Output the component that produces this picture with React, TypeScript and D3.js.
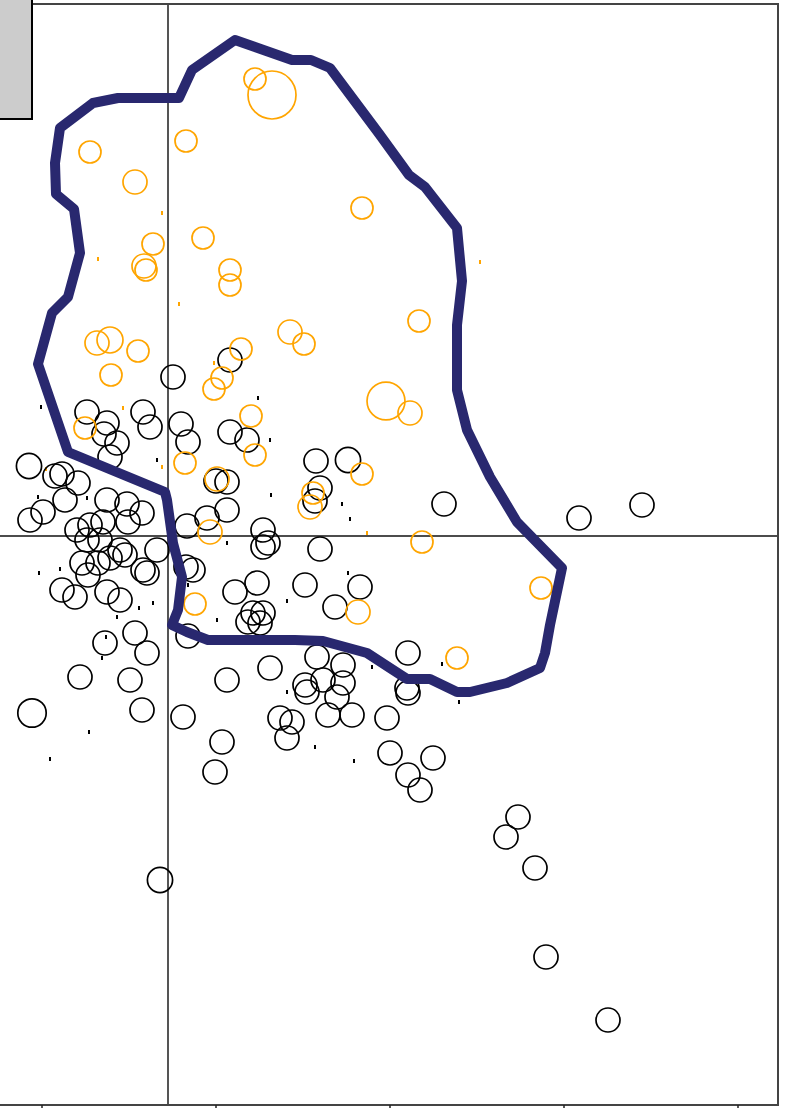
import React from "react";
import * as d3 from "d3";

// [x, y, weight]
const orangePoints: [number, number, number][] = [
  [0.87, 4.57, 0.84], [1.04, 4.41, 4], [-0.78, 3.84, 0.84], [0.18, 3.95, 0.84],
  [-0.33, 3.54, 1], [1.94, 3.28, 0.84], [-0.15, 2.92, 0.84], [0.35, 2.98, 0.84],
  [-0.24, 2.70, 1], [-0.22, 2.66, 0.84], [0.62, 2.66, 0.84], [0.62, 2.51, 0.84],
  [2.51, 2.15, 0.84], [1.22, 2.04, 1], [1.36, 1.92, 0.84], [-0.71, 1.93, 1],
  [-0.58, 1.96, 1.17], [-0.30, 1.85, 0.84], [-0.57, 1.61, 0.84], [0.73, 1.87, 0.84],
  [0.54, 1.58, 0.84], [0.46, 1.47, 0.84], [2.18, 1.35, 2.5], [2.42, 1.23, 1],
  [0.83, 1.20, 0.84], [-0.83, 1.08, 0.84], [0.87, 0.81, 0.84], [0.17, 0.73, 0.84],
  [0.49, 0.57, 1], [1.94, 0.62, 0.84], [1.45, 0.43, 0.84], [1.42, 0.29, 1],
  [0.42, 0.04, 1], [2.54, -0.06, 0.84], [3.73, -0.52, 0.84], [0.27, -0.68, 0.84],
  [1.90, -0.76, 1], [2.89, -1.22, 0.84],
];

const blackPoints: [number, number, number][] = [
  [0.62, 1.76, 1], [0.05, 1.59, 1], [-0.81, 1.24, 1], [-0.61, 1.13, 1], [-0.64, 1.02, 1],
  [-0.51, 0.93, 1], [-0.58, 0.79, 1], [-0.25, 1.24, 1], [-0.18, 1.09, 1], [0.13, 1.12, 1],
  [0.20, 0.94, 1], [0.62, 1.04, 1], [0.79, 0.96, 1], [0.48, 0.55, 1], [0.59, 0.54, 1],
  [0.59, 0.26, 1], [0.39, 0.18, 1], [0.19, 0.10, 1], [1.48, 0.75, 1], [1.80, 0.76, 1.1],
  [1.52, 0.48, 1], [1.47, 0.35, 1], [2.76, 0.32, 1], [4.11, 0.18, 1], [4.74, 0.31, 1],
  [0.95, 0.06, 1], [1.00, -0.07, 1], [0.95, -0.11, 1], [1.52, -0.13, 1],
  [-1.39, 0.70, 1.1], [-1.13, 0.60, 1], [-1.06, 0.62, 1], [-0.90, 0.53, 1], [-1.03, 0.36, 1],
  [-0.61, 0.36, 1], [-0.41, 0.32, 1], [-0.26, 0.23, 1], [-1.38, 0.16, 1], [-1.25, 0.24, 1],
  [-0.91, 0.06, 1], [-0.78, 0.11, 1], [-0.65, 0.14, 1], [-0.40, 0.14, 1], [-0.81, -0.04, 1],
  [-0.68, -0.04, 1], [-0.48, -0.14, 1], [-0.11, -0.14, 1], [-0.86, -0.27, 1], [-0.70, -0.27, 1],
  [-0.58, -0.22, 1], [-0.43, -0.19, 1], [-0.21, -0.37, 1], [-0.25, -0.34, 1], [-1.06, -0.54, 1],
  [-0.93, -0.61, 1], [-0.61, -0.56, 1], [-0.48, -0.64, 1], [-0.80, -0.39, 1], [0.18, -0.31, 1],
  [0.25, -0.34, 1],
  [0.89, -0.47, 1], [0.67, -0.56, 1], [0.85, -0.77, 1], [0.95, -0.77, 1], [0.80, -0.86, 1],
  [0.92, -0.87, 1], [1.37, -0.49, 1], [1.67, -0.71, 1], [1.92, -0.51, 1], [0.20, -1.00, 1],
  [1.49, -1.21, 1], [1.75, -1.29, 1], [2.40, -1.17, 1], [0.59, -1.44, 1], [1.02, -1.32, 1],
  [1.37, -1.49, 1], [1.39, -1.56, 1], [1.55, -1.44, 1], [1.75, -1.47, 1], [1.69, -1.61, 1],
  [2.39, -1.52, 1], [2.40, -1.57, 1], [0.15, -1.81, 1], [1.12, -1.82, 1], [1.24, -1.86, 1],
  [1.19, -2.02, 1], [1.60, -1.79, 1], [1.84, -1.79, 1], [2.19, -1.82, 1], [0.54, -2.06, 1],
  [0.47, -2.36, 1], [2.22, -2.17, 1], [2.65, -2.22, 1], [2.40, -2.39, 1], [2.52, -2.54, 1],
  [3.50, -2.81, 1], [3.38, -3.01, 1], [3.67, -3.32, 1], [3.78, -4.21, 1], [4.40, -4.84, 1],
  [-0.08, -3.44, 1.1], [-0.88, -1.41, 1], [-0.63, -1.07, 1], [-0.33, -0.97, 1], [-0.21, -1.17, 1],
  [-0.38, -1.44, 1], [-0.26, -1.74, 1], [-1.36, -1.77, 1.4],
];

const blackDots: [number, number][] = [
  [-1.27, 1.29], [0.90, 1.38], [1.02, 0.96], [-0.11, 0.76], [1.03, 0.41], [1.74, 0.32],
  [1.82, 0.17], [0.59, -0.07], [-1.30, 0.39], [-0.81, 0.38], [-1.29, -0.37], [-1.08, -0.33],
  [1.80, -0.37], [1.19, -0.65], [0.49, -0.84], [-0.51, -0.81], [-0.29, -0.72], [-0.15, -0.67],
  [2.04, -1.31], [1.19, -1.56], [1.47, -2.11], [1.86, -2.25], [2.74, -1.28], [2.91, -1.66],
  [-0.66, -1.22], [-0.62, -1.01], [-0.79, -1.96], [-1.18, -2.23], [0.20, -0.49],
];

const orangeDots: [number, number][] = [
  [-0.06, 3.23], [-0.70, 2.77], [0.11, 2.32], [3.12, 2.74], [-0.45, 1.28],
  [-0.06, 0.69], [-1.22, 0.67], [1.99, 0.03], [0.46, 1.73],
];

const hull: [number, number][] = [
  [0.67, 4.96], [0.87, 4.89], [1.24, 4.76], [1.43, 4.76], [1.62, 4.68], [2.12, 4.01],
  [2.41, 3.61], [2.57, 3.49], [2.89, 3.08], [2.94, 2.55], [2.89, 2.11], [2.89, 1.46],
  [2.99, 1.06], [3.22, 0.59], [3.49, 0.14], [3.94, -0.32], [3.82, -0.89], [3.77, -1.17],
  [3.72, -1.32], [3.39, -1.47], [3.02, -1.56], [2.89, -1.56], [2.62, -1.43], [2.39, -1.43],
  [2.22, -1.32], [1.99, -1.17], [1.55, -1.05], [1.27, -1.04], [0.40, -1.04], [0.19, -0.96],
  [0.04, -0.89], [0.10, -0.74], [0.14, -0.41], [0.05, -0.07], [-0.01, 0.36], [-0.03, 0.44],
  [-1.00, 0.84], [-1.30, 1.72], [-1.16, 2.23], [-1.00, 2.39], [-0.88, 2.83], [-0.94, 3.27],
  [-1.12, 3.42], [-1.13, 3.73], [-1.08, 4.08], [-0.75, 4.33], [-0.50, 4.38], [0.11, 4.38],
  [0.24, 4.66],
];

const xTicks = [-1.26, 0.48, 2.22, 3.96, 5.7];

const W = 787;
const H = 1108;
const plot = { left: 0, right: 778, top: 4, bottom: 1105 };

export default function App() {
  const x = d3.scaleLinear().domain([-1.68, 6.1]).range([plot.left, plot.right]);
  const y = d3.scaleLinear().domain([5.32, -5.69]).range([plot.top, plot.bottom]);
  const r = d3.scaleSqrt().domain([0, 1]).range([0, 12]);
  const line = d3
    .line<[number, number]>()
    .x((d) => x(d[0]))
    .y((d) => y(d[1]))
    .curve(d3.curveLinearClosed);

  return (
    <svg
      width={W}
      height={H}
      style={{ position: "absolute", left: 0, top: 0, background: "#fff" }}
    >
      <rect x={0} y={0} width={W} height={H} fill="#fff" />
      <line x1={x(0)} x2={x(0)} y1={plot.top} y2={plot.bottom} stroke="#555" strokeWidth={2} />
      <line x1={plot.left} x2={plot.right} y1={y(0)} y2={y(0)} stroke="#111" strokeWidth={1.6} />
      {blackDots.map((d, i) => (
        <rect key={"bd" + i} x={x(d[0]) - 1} y={y(d[1]) - 2} width={2} height={4} fill="#000" />
      ))}
      {orangeDots.map((d, i) => (
        <rect key={"od" + i} x={x(d[0]) - 1} y={y(d[1]) - 2} width={2} height={4} fill="#FFA500" />
      ))}
      {blackPoints.map((d, i) => (
        <circle
          key={"b" + i}
          cx={x(d[0])}
          cy={y(d[1])}
          r={r(d[2])}
          fill="none"
          stroke="#000"
          strokeWidth={1.7}
        />
      ))}
      {orangePoints.map((d, i) => (
        <circle
          key={"o" + i}
          cx={x(d[0])}
          cy={y(d[1])}
          r={r(d[2])}
          fill="none"
          stroke="#FFA500"
          strokeWidth={1.7}
        />
      ))}
      <path
        d={line(hull) || ""}
        fill="none"
        stroke="#29286F"
        strokeWidth={10}
        strokeLinejoin="round"
      />
      <rect
        x={-2}
        y={plot.top}
        width={plot.right + 2}
        height={plot.bottom - plot.top}
        fill="none"
        stroke="#444"
        strokeWidth={2}
      />
      {xTicks.map((t, i) => (
        <line key={"t" + i} x1={x(t)} x2={x(t)} y1={plot.bottom} y2={H} stroke="#222" strokeWidth={1.5} />
      ))}
      <rect x={-2} y={-2} width={34} height={121} fill="#cccccc" stroke="#000" strokeWidth={2} />
    </svg>
  );
}
